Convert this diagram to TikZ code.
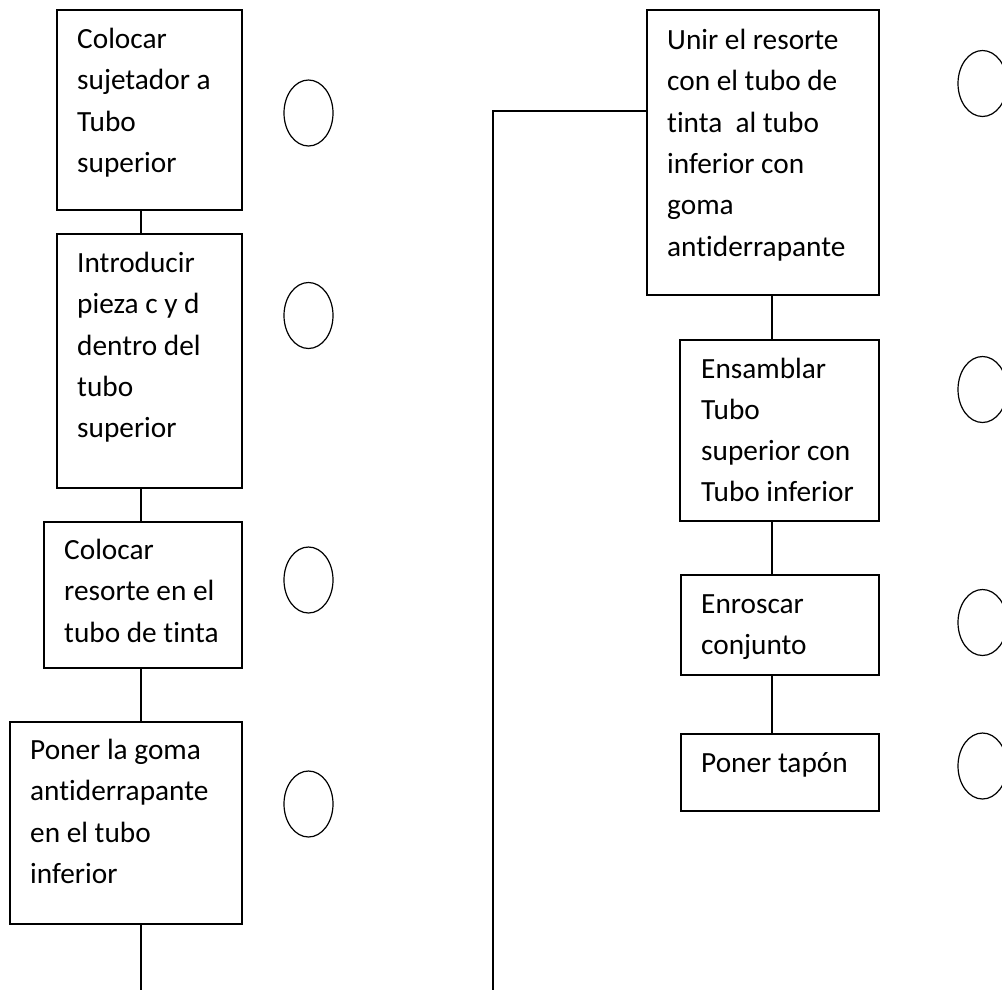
\documentclass[tikz,border=0pt]{standalone}
\usepackage{fontspec}
\setmainfont{Carlito}[Ligatures=NoCommon]
\usetikzlibrary{shapes.geometric}
\newcommand\steptext[1]{\parbox[t]{230pt}{\fontsize{29.3pt}{41.3pt}\selectfont\raggedright #1}}
\begin{document}
\begin{tikzpicture}[x=1pt,y=-1pt,
  stepbox/.style={draw, line width=1.6pt, rectangle, anchor=north west, inner sep=0pt},
  lbl/.style={anchor=base west, inner sep=0pt},
  ovalmark/.style={draw, ellipse, line width=1.2pt, minimum width=49pt, minimum height=66pt, inner sep=0pt},
  link/.style={line width=1.6pt}]
\useasboundingbox (0,0) rectangle (1002,989);
\clip (0,0) rectangle (1002,989);
% left column boxes
\node[stepbox, minimum width=185pt, minimum height=200pt] (b1) at (56,9) {};
\node[stepbox, minimum width=185pt, minimum height=254pt] (b2) at (56,233) {};
\node[stepbox, minimum width=198pt, minimum height=146pt] (b3) at (43,521) {};
\node[stepbox, minimum width=232pt, minimum height=202pt] (b4) at (9,721) {};
% right column boxes
\node[stepbox, minimum width=232pt, minimum height=285pt] (b5) at (646,9) {};
\node[stepbox, minimum width=199pt, minimum height=181pt] (b6) at (679,339) {};
\node[stepbox, minimum width=198pt, minimum height=100pt] (b7) at (680,574) {};
\node[stepbox, minimum width=198pt, minimum height=77pt] (b8) at (680,733) {};
% texts
\node[lbl] (t1) at ([xshift=21pt,yshift=-39.5pt]b1.north west) {\steptext{Colocar\\sujetador a\\Tubo\\superior}};
\node[lbl] (t2) at ([xshift=21pt,yshift=-39.5pt]b2.north west) {\steptext{Introducir\\pieza c y d\\dentro del\\tubo\\superior}};
\node[lbl] (t3) at ([xshift=21pt,yshift=-38.5pt]b3.north west) {\steptext{Colocar\\resorte en el\\tubo de tinta}};
\node[lbl] (t4) at ([xshift=21pt,yshift=-38.5pt]b4.north west) {\steptext{Poner la goma\\antiderrapante\\en el tubo\\inferior}};
\node[lbl] (t5) at ([xshift=21pt,yshift=-40.5pt]b5.north west) {\steptext{Unir el resorte\\con el tubo de\\tinta~ al tubo\\inferior con\\goma\\antiderrapante}};
\node[lbl] (t6) at ([xshift=22pt,yshift=-39pt]b6.north west) {\steptext{Ensamblar\\Tubo\\superior con\\Tubo inferior}};
\node[lbl] (t7) at ([xshift=21pt,yshift=-39pt]b7.north west) {\steptext{Enroscar\\conjunto}};
\node[lbl] (t8) at ([xshift=21pt,yshift=-39pt]b8.north west) {\steptext{Poner tapón}};
% circles
\node[ovalmark] (o1) at (308.5,113) {};
\node[ovalmark] (o2) at (308.5,315.5) {};
\node[ovalmark] (o3) at (308.5,580) {};
\node[ovalmark] (o4) at (308.5,804) {};
\node[ovalmark] (o5) at (982.5,83.5) {};
\node[ovalmark] (o6) at (982.5,389.5) {};
\node[ovalmark] (o7) at (982.5,622.5) {};
\node[ovalmark] (o8) at (982.5,766) {};
% free ends
\coordinate (e1) at (141,995);
\coordinate (e2) at (493,995);
% connectors
\draw[link] ([xshift=85pt]b1.south west) -- ([xshift=85pt]b2.north west);
\draw[link] ([xshift=85pt]b2.south west) -- ([xshift=98pt]b3.north west);
\draw[link] ([xshift=98pt]b3.south west) -- ([xshift=132pt]b4.north west);
\draw[link] ([xshift=132pt]b4.south west) -- (e1);
\draw[link] (e2) |- ([yshift=-102pt]b5.north west);
\draw[link] ([xshift=126pt]b5.south west) -- ([xshift=93pt]b6.north west);
\draw[link] ([xshift=93pt]b6.south west) -- ([xshift=92pt]b7.north west);
\draw[link] ([xshift=92pt]b7.south west) -- ([xshift=92pt]b8.north west);
\end{tikzpicture}
\end{document}
